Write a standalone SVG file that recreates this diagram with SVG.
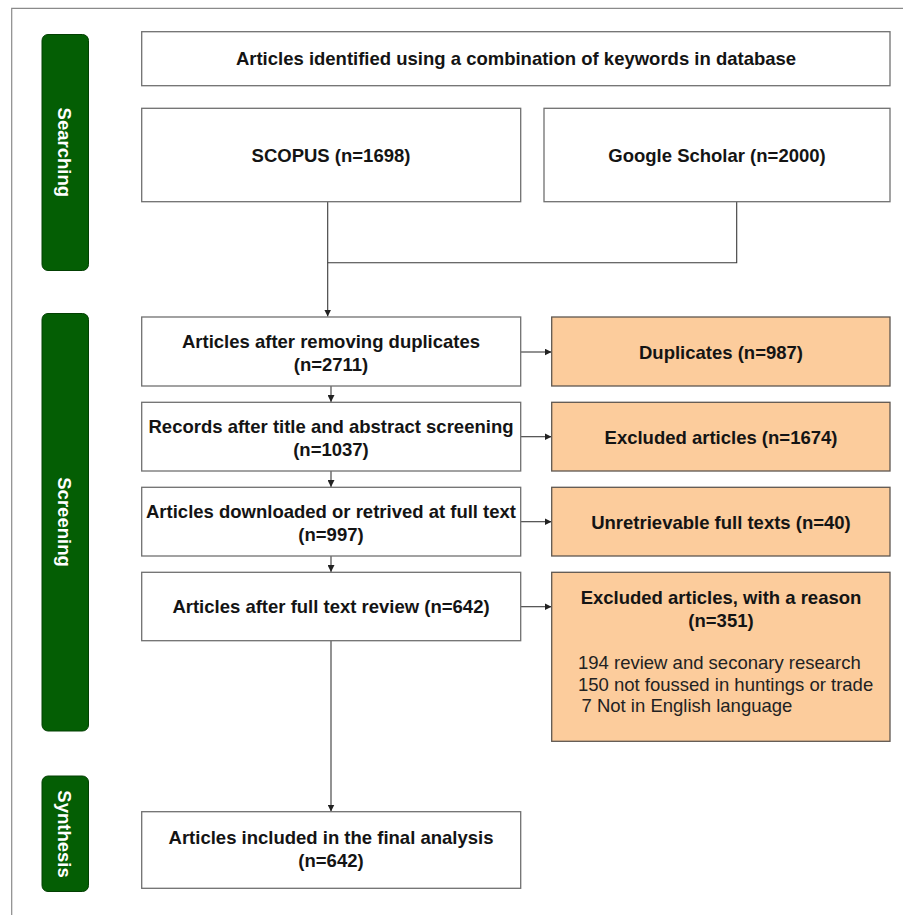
<svg xmlns="http://www.w3.org/2000/svg" width="903" height="915" viewBox="0 0 903 915">
  <style>
    .box { fill: #ffffff; stroke: #707070; stroke-width: 1.3; }
    .obox { fill: #fccc9c; stroke: #5f5750; stroke-width: 1.3; }
    .bar { fill: #045e04; stroke: #034003; stroke-width: 1; }
    .t { font-family: "Liberation Sans", Arial, sans-serif; font-size: 18.5px; font-weight: bold; fill: #141414; text-anchor: middle; }
    .r { font-family: "Liberation Sans", Arial, sans-serif; font-size: 18.5px; fill: #222222; }
    .bt { font-family: "Liberation Sans", Arial, sans-serif; font-size: 18.5px; font-weight: bold; fill: #ffffff; text-anchor: middle; }
    .ln { fill: none; stroke: #3a3a3a; stroke-width: 1.1; }
  </style>
  <defs>
    <marker id="arr" viewBox="0 0 10 10" refX="10" refY="5" markerWidth="7" markerHeight="7" markerUnits="userSpaceOnUse" orient="auto">
      <path d="M0,0 L10,5 L0,10 z" fill="#222222"/>
    </marker>
  </defs>
  <rect width="903" height="915" fill="#ffffff"/>
  <!-- outer frame -->
  <path d="M11.7,915 V8.3 H903" fill="none" stroke="#8a8a8a" stroke-width="1.2"/>

  <!-- phase bars -->
  <g id="phase-searching">
    <rect class="bar" x="42" y="34.5" width="46.5" height="236" rx="6"/>
    <text class="bt" transform="translate(57.5,152.3) rotate(90)">Searching</text>
  </g>
  <g id="phase-screening">
    <rect class="bar" x="42" y="313.5" width="46.5" height="417.5" rx="6"/>
    <text class="bt" transform="translate(57.5,522) rotate(90)">Screening</text>
  </g>
  <g id="phase-synthesis">
    <rect class="bar" x="42" y="776" width="46.5" height="115.5" rx="6"/>
    <text class="bt" transform="translate(57.5,834) rotate(90)">Synthesis</text>
  </g>

  <!-- connectors -->
  <g id="connectors">
    <path class="ln" d="M327.7,201.7 V316.5" marker-end="url(#arr)"/>
    <path class="ln" d="M736.7,201.7 V262.7 H327.7"/>
    <path class="ln" d="M331,386 V402" marker-end="url(#arr)"/>
    <path class="ln" d="M331,471 V487" marker-end="url(#arr)"/>
    <path class="ln" d="M331,556 V572" marker-end="url(#arr)"/>
    <path class="ln" d="M331,641 V811.5" marker-end="url(#arr)"/>
    <path class="ln" d="M520.7,352 H551.5" marker-end="url(#arr)"/>
    <path class="ln" d="M520.7,436.7 H551.5" marker-end="url(#arr)"/>
    <path class="ln" d="M520.7,521.7 H551.5" marker-end="url(#arr)"/>
    <path class="ln" d="M520.7,606.7 H551.5" marker-end="url(#arr)"/>
  </g>

  <g id="identified">
    <rect class="box" x="141.7" y="31.7" width="748.3" height="54"/>
    <text class="t" x="516" y="65">Articles identified using a combination of keywords in database</text>
  </g>
  <g id="scopus">
    <rect class="box" x="141.7" y="108.3" width="379" height="93.4"/>
    <text class="t" x="331" y="161.5">SCOPUS (n=1698)</text>
  </g>
  <g id="scholar">
    <rect class="box" x="544" y="108.3" width="346" height="93.4"/>
    <text class="t" x="717" y="161.5">Google Scholar (n=2000)</text>
  </g>

  <g id="dedup">
    <rect class="box" x="141.7" y="317" width="379" height="69"/>
    <text class="t" x="331" y="348.3">Articles after removing duplicates</text>
    <text class="t" x="331" y="371">(n=2711)</text>
  </g>
  <g id="duplicates">
    <rect class="obox" x="551.7" y="317" width="338.3" height="69"/>
    <text class="t" x="721" y="358.5">Duplicates (n=987)</text>
  </g>

  <g id="screened">
    <rect class="box" x="141.7" y="402.3" width="379" height="68.7"/>
    <text class="t" x="331" y="433">Records after title and abstract screening</text>
    <text class="t" x="331" y="455.5">(n=1037)</text>
  </g>
  <g id="excluded1">
    <rect class="obox" x="551.7" y="402.3" width="338.3" height="68.7"/>
    <text class="t" x="721" y="443.5">Excluded articles (n=1674)</text>
  </g>

  <g id="retrieved">
    <rect class="box" x="141.7" y="487.3" width="379" height="68.7"/>
    <text class="t" x="331" y="518" textLength="370" lengthAdjust="spacingAndGlyphs">Articles downloaded or retrived at full text</text>
    <text class="t" x="331" y="540.5">(n=997)</text>
  </g>
  <g id="unretrievable">
    <rect class="obox" x="551.7" y="487.3" width="338.3" height="68.7"/>
    <text class="t" x="721" y="528.5">Unretrievable full texts (n=40)</text>
  </g>

  <g id="fulltext">
    <rect class="box" x="141.7" y="572.3" width="379" height="68.4"/>
    <text class="t" x="331" y="613">Articles after full text review (n=642)</text>
  </g>
  <g id="excluded2">
    <rect class="obox" x="551.7" y="572.3" width="338.3" height="169"/>
    <text class="t" x="721" y="604">Excluded articles, with a reason</text>
    <text class="t" x="721" y="626.5">(n=351)</text>
    <text class="r" x="578" y="669">194 review and seconary research</text>
    <text class="r" x="578" y="690.5">150 not foussed in huntings or trade</text>
    <text class="r" x="581.5" y="712">7 Not in English language</text>
  </g>

  <g id="final">
    <rect class="box" x="141.7" y="811.7" width="379" height="76.6"/>
    <text class="t" x="331" y="844">Articles included in the final analysis</text>
    <text class="t" x="331" y="867">(n=642)</text>
  </g>
</svg>
